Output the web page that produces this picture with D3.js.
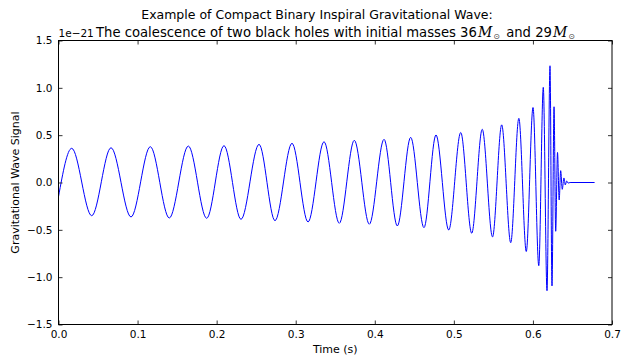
<!DOCTYPE html>
<html>
<head>
<meta charset="utf-8" />
<title>Gravitational Wave</title>
<style>
html, body { margin: 0; padding: 0; background-color: #FFFFFF; }
svg { display: block; font-family: "DejaVu Sans", sans-serif; }
</style>
<script src="https://d3js.org/d3.v7.min.js"></script>
</head>
<body>
<script>
// extrema of the waveform (time in s, strain in 1e-21)
var times = [0, 0.0167, 0.0420, 0.0664, 0.0917, 0.1161, 0.1401, 0.1642, 0.1874, 0.2093, 0.2308,
  0.2536, 0.2738, 0.2953, 0.3156, 0.3358, 0.3551, 0.3741, 0.3931, 0.4117, 0.4285,
  0.4454, 0.4622, 0.4774, 0.4935, 0.5087, 0.5226, 0.5359, 0.5489, 0.5605, 0.5719,
  0.5822, 0.5916, 0.6001, 0.6074, 0.6131, 0.6178, 0.6216, 0.6241, 0.6267, 0.6288,
  0.6311, 0.6332, 0.6351, 0.6371, 0.6392, 0.6409, 0.6427, 0.6445, 0.6470, 0.6780];
var strain = [-0.15, 0.361, -0.351, 0.367, -0.364, 0.378, -0.375, 0.385, -0.378, 0.389, -0.389,
  0.403, -0.403, 0.414, -0.417, 0.431, -0.431, 0.446, -0.441, 0.456, -0.459,
  0.477, -0.477, 0.502, -0.502, 0.528, -0.536, 0.562, -0.575, 0.609, -0.636,
  0.678, -0.729, 0.792, -0.879, 1.005, -1.143, 1.233, -1.093, 0.800, -0.515,
  0.317, -0.185, 0.125, -0.072, 0.048, -0.026, 0.016, -0.006, 0, 0];
var xTicks = [0.0, 0.1, 0.2, 0.3, 0.4, 0.5, 0.6, 0.7];
var yTicks = [-1.5, -1.0, -0.5, 0.0, 0.5, 1.0, 1.5];

var W = 621, H = 355;
var pLeft = 58.5, pRight = 612, pTop = 40.5, pBottom = 324.5;

var svg = d3.select('body').append('svg')
  .attr('width', W)
  .attr('height', H);

var x = d3.scaleLinear().domain([0, 0.7]).range([pLeft, pRight]);
var y = d3.scaleLinear().domain([-1.5, 1.5]).range([pBottom, pTop]);
var fmt = d3.format('.1f');

// the wave
var pts = times.map(function(t, i) { return [t, strain[i]]; });
var line = d3.line()
  .x(function(d) { return x(d[0]); })
  .y(function(d) { return y(d[1]); })
  .curve(d3.curveMonotoneX);
svg.append('path')
  .datum(pts)
  .attr('d', line)
  .attr('fill', 'none')
  .attr('stroke', '#0000ff')
  .attr('stroke-width', 1);

// axes, ticks pointing inward on every side
function tidy(g) {
  g.select('.domain').remove();
  g.selectAll('line').attr('stroke', '#000').attr('stroke-width', 0.8);
  g.selectAll('text').attr('font-size', 10.5).attr('fill', '#000')
    .attr('font-family', '"DejaVu Sans", sans-serif');
}
svg.append('g').attr('transform', 'translate(0,' + pBottom + ')')
  .call(d3.axisBottom(x).tickValues(xTicks).tickFormat(fmt).tickSizeInner(-4).tickSizeOuter(0).tickPadding(6))
  .call(tidy);
svg.append('g').attr('transform', 'translate(0,' + pTop + ')')
  .call(d3.axisTop(x).tickValues(xTicks).tickFormat('').tickSizeInner(-4).tickSizeOuter(0))
  .call(tidy);
svg.append('g').attr('transform', 'translate(' + pLeft + ',0)')
  .call(d3.axisLeft(y).tickValues(yTicks).tickFormat(fmt).tickSizeInner(-4).tickSizeOuter(0).tickPadding(6))
  .call(tidy);
svg.append('g').attr('transform', 'translate(' + pRight + ',0)')
  .call(d3.axisRight(y).tickValues(yTicks).tickFormat('').tickSizeInner(-4).tickSizeOuter(0))
  .call(tidy);

svg.append('rect')
  .attr('x', pLeft).attr('y', pTop)
  .attr('width', pRight - pLeft).attr('height', pBottom - pTop)
  .attr('fill', 'none').attr('stroke', '#000').attr('stroke-width', 1);

// labels
svg.append('text')
  .attr('x', (pLeft + pRight) / 2).attr('y', 353)
  .attr('text-anchor', 'middle').attr('font-size', 11)
  .text('Time (s)');
svg.append('text')
  .attr('transform', 'translate(19,' + ((pTop + pBottom) / 2) + ') rotate(-90)')
  .attr('text-anchor', 'middle').attr('font-size', 11)
  .text('Gravitational Wave Signal');
svg.append('text')
  .attr('x', pLeft).attr('y', 37)
  .attr('font-size', 10.5)
  .text('1e\u221221');

svg.append('text')
  .attr('x', 317).attr('y', 19)
  .attr('text-anchor', 'middle').attr('font-size', 12.5)
  .text('Example of Compact Binary Inspiral Gravitational Wave:');
var t2 = svg.append('text')
  .attr('x', 96).attr('y', 37)
  .attr('font-size', 13.2);
t2.append('tspan').text('The coalescence of two black holes with initial masses 36');
t2.append('tspan').attr('dx', 1).attr('font-family', '"DejaVu Serif", serif').attr('font-style', 'italic').attr('font-size', 14).text('M');
t2.append('tspan').attr('dx', 1).attr('font-size', 8).attr('dy', 2).attr('fill', '#444').text('\u2299');
t2.append('tspan').attr('dx', 2).attr('dy', -2).text(' and 29');
t2.append('tspan').attr('dx', 1).attr('font-family', '"DejaVu Serif", serif').attr('font-style', 'italic').attr('font-size', 14).text('M');
t2.append('tspan').attr('dx', 1).attr('font-size', 8).attr('dy', 2).attr('fill', '#444').text('\u2299');
</script>
</body>
</html>
